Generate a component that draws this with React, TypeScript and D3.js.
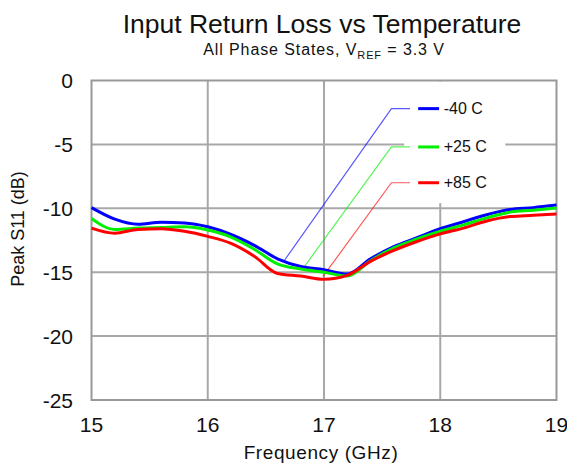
import React from "react";
import * as d3 from "d3";

// Frequency points (GHz)
const freqs = [15, 15.2, 15.4, 15.6, 15.8, 16, 16.2, 16.4, 16.6, 16.8, 17, 17.2, 17.4, 17.6, 17.8, 18, 18.2, 18.4, 18.6, 18.8, 19];

// Peak S11 (dB) per temperature
const minus40 = [-9.95, -10.85, -11.25, -11.1, -11.15, -11.45, -12.05, -12.9, -13.95, -14.55, -14.8, -15.15, -13.95, -13.0, -12.3, -11.6, -11.05, -10.5, -10.1, -9.95, -9.75];
const plus25 = [-10.8, -11.65, -11.55, -11.5, -11.45, -11.7, -12.25, -13.2, -14.35, -14.75, -15.0, -15.3, -14.1, -13.1, -12.4, -11.8, -11.3, -10.75, -10.3, -10.15, -9.98];
const plus85 = [-11.55, -11.95, -11.65, -11.6, -11.8, -12.2, -12.75, -13.75, -15.1, -15.3, -15.55, -15.25, -14.15, -13.3, -12.6, -12.0, -11.55, -11.0, -10.65, -10.55, -10.45];

const seriesNames = ["-40 C", "+25 C", "+85 C"];
const seriesColors = ["#0000ff", "#00ee00", "#ff0000"];
// where each legend leader line touches its curve [freq, dB] and the legend row level (dB)
const leaderTargets = [[16.65, -14.2], [16.82, -14.7], [16.99, -15.35]];
const legendRows = [-2.2, -5.2, -8.0];

const xTicks = [15, 16, 17, 18, 19];
const yTicks = [0, -5, -10, -15, -20, -25];

const W = 567;
const H = 468;
const font = "'Liberation Sans', Arial, sans-serif";

export default function App() {
  const x = d3.scaleLinear().domain([15, 19]).range([91.5, 556.5]);
  const y = d3.scaleLinear().domain([-25, 0]).range([400, 80.5]);

  const series = [minus40, plus25, plus85];
  const line = d3.line<number>()
    .x((_, i) => x(freqs[i]))
    .y(d => y(d))
    .curve(d3.curveMonotoneX);

  const gridColor = "#a8a8a8";

  return (
    <svg width={W} height={H} style={{ position: "absolute", left: 0, top: 0, background: "#fff" }} fontFamily={font}>
      {/* Title */}
      <text x={322} y={33} textAnchor="middle" fontSize={26.5} fill="#111">Input Return Loss vs Temperature</text>
      <text x={324} y={55} textAnchor="middle" fontSize={16} letterSpacing={0.9} fill="#111">
        All Phase States, V<tspan fontSize={11} dy={4}>REF</tspan><tspan dy={-4}> = 3.3 V</tspan>
      </text>

      {/* Grid */}
      {yTicks.filter(t => t !== 0 && t !== -25).map(t => (
        <line key={"gy" + t} x1={x(15)} x2={x(19)} y1={y(t)} y2={y(t)} stroke={gridColor} strokeWidth={2} />
      ))}
      {xTicks.filter(t => t !== 15 && t !== 19).map(t => (
        <line key={"gx" + t} x1={x(t)} x2={x(t)} y1={y(0)} y2={y(-25)} stroke={gridColor} strokeWidth={2} />
      ))}

      {/* Legend box (white, hides grid) */}
      <rect x={x(17.69)} y={y(0) + 1} width={x(18.56) - x(17.69)} height={y(-9.6) - y(0) - 1} fill="#fff" />

      {/* Frame */}
      <rect x={x(15)} y={y(0)} width={x(19) - x(15)} height={y(-25) - y(0)} fill="none" stroke="#999" strokeWidth={2} />

      {/* Leader lines */}
      {series.map((_, i) => {
        const [tf, td] = leaderTargets[i];
        const pts: [number, number][] = [
          [x(tf), y(td)],
          [x(17.58), y(legendRows[i])],
          [x(17.74), y(legendRows[i])]
        ];
        return (
          <path key={"ld" + i} d={d3.line()(pts) || ""} fill="none" stroke={seriesColors[i]} strokeOpacity={0.65} strokeWidth={1.2} />
        );
      })}

      {/* Data curves */}
      {series.map((s, i) => (
        <path key={"s" + i} d={line(s) || ""} fill="none" stroke={seriesColors[i]} strokeWidth={3} strokeLinejoin="round" />
      ))}

      {/* Legend */}
      {seriesNames.map((n, i) => (
        <g key={"lg" + i}>
          <line x1={x(17.81)} x2={x(17.99)} y1={y(legendRows[i])} y2={y(legendRows[i])} stroke={seriesColors[i]} strokeWidth={3} />
          <text x={x(18.03)} y={y(legendRows[i]) + 5.5} fontSize={16} fill="#111">{n}</text>
        </g>
      ))}

      {/* Y tick labels */}
      {yTicks.map(t => (
        <text key={"yt" + t} x={73} y={y(t) + 7.5} textAnchor="end" fontSize={21} fill="#111">{t}</text>
      ))}
      {/* X tick labels */}
      {xTicks.map(t => (
        <text key={"xt" + t} x={x(t)} y={432} textAnchor="middle" fontSize={21} fill="#111">{t}</text>
      ))}

      {/* Axis titles */}
      <text x={321} y={459} textAnchor="middle" fontSize={19} letterSpacing={0.6} fill="#111">Frequency (GHz)</text>
      <text transform="translate(24, 229) rotate(-90)" textAnchor="middle" fontSize={18} fill="#111">Peak S11 (dB)</text>
    </svg>
  );
}
